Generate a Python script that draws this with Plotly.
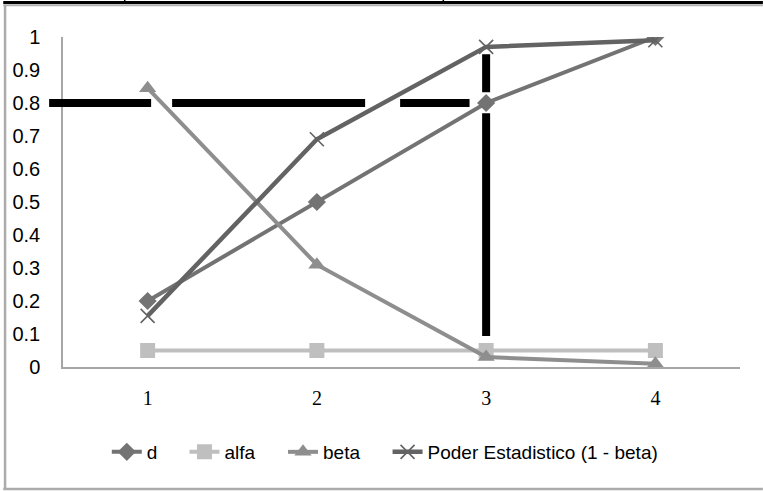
import plotly.graph_objects as go

# ---- data -------------------------------------------------------------
categories = [1, 2, 3, 4]
d_values = [0.20, 0.50, 0.80, 1.00]
alfa_values = [0.05, 0.05, 0.05, 0.05]
beta_values = [0.845, 0.31, 0.03, 0.01]
power_values = [0.155, 0.69, 0.97, 0.99]

y_tick_values = [0, 0.1, 0.2, 0.3, 0.4, 0.5, 0.6, 0.7, 0.8, 0.9, 1]
y_tick_labels = ["0", "0.1", "0.2", "0.3", "0.4", "0.5", "0.6", "0.7", "0.8", "0.9", "1"]

series_names = ["d", "alfa", "beta", "Poder Estadistico (1 - beta)"]

# target power level and the sample size category where it is reached
target_power = 0.8
target_category = 3

# ---- layout geometry ----------------------------------------------------
FIG_W, FIG_H = 763, 491
M_L, M_R, M_T, M_B = 60, 23, 37, 124
X_RANGE = [0.5, 4.5]
Y_RANGE = [0, 1]


def cat_to_paper(c):
    return (c - X_RANGE[0]) / (X_RANGE[1] - X_RANGE[0])


def val_to_paper(v):
    return (v - Y_RANGE[0]) / (Y_RANGE[1] - Y_RANGE[0])


def px_x(px):
    return (px - M_L) / (FIG_W - M_L - M_R)


def px_y(py):
    return (FIG_H - M_B - py) / (FIG_H - M_T - M_B)


SANS = "Liberation Sans, Arial, sans-serif"
SERIF = "Liberation Serif, Times New Roman, serif"

# one legend box per series so the entries keep their own spacing
legend_ids = ["legend", "legend2", "legend3", "legend4"]
legend_left_px = [104, 182, 281, 386]

fig = go.Figure()

fig.add_trace(go.Scatter(
    x=categories, y=d_values, name=series_names[0], mode="lines+markers",
    line=dict(color="#737373", width=4),
    marker=dict(symbol="diamond", size=14, color="#737373"),
    legend=legend_ids[0],
))
fig.add_trace(go.Scatter(
    x=categories, y=alfa_values, name=series_names[1], mode="lines+markers",
    line=dict(color="#bfbfbf", width=4),
    marker=dict(symbol="square", size=15, color="#bfbfbf"),
    legend=legend_ids[1],
))
fig.add_trace(go.Scatter(
    x=categories, y=beta_values, name=series_names[2], mode="lines+markers",
    line=dict(color="#8e8e8e", width=4),
    marker=dict(symbol="triangle-up", size=15, color="#8e8e8e"),
    legend=legend_ids[2],
))
fig.add_trace(go.Scatter(
    x=categories, y=power_values, name=series_names[3], mode="lines+markers",
    line=dict(color="#636363", width=4.5),
    marker=dict(symbol="x-thin", size=14, line=dict(color="#636363", width=1.6)),
    legend=legend_ids[3],
))

shapes = []

# dashed target line at power 0.8
shapes.append(dict(
    type="line", xref="paper", yref="paper",
    x0=cat_to_paper(0.418), x1=cat_to_paper(2.902),
    y0=val_to_paper(target_power), y1=val_to_paper(target_power),
    line=dict(color="black", width=8, dash="102px,21px,193px,35px,71px,300px"),
    layer="above",
))
# dashed vertical line at the category that reaches the target
shapes.append(dict(
    type="line", xref="paper", yref="paper",
    x0=cat_to_paper(target_category), x1=cat_to_paper(target_category),
    y0=val_to_paper(0.948), y1=val_to_paper(0.094),
    line=dict(color="black", width=8, dash="38px,21px,223px,300px"),
    layer="above",
))

# outer frame and the table border above it
shapes.append(dict(type="line", xref="paper", yref="paper",
                   x0=px_x(1.8), x1=px_x(1.8), y0=px_y(5), y1=px_y(489),
                   line=dict(color="#ababab", width=2.5)))
shapes.append(dict(type="line", xref="paper", yref="paper",
                   x0=px_x(0), x1=px_x(FIG_W), y0=px_y(5.3), y1=px_y(5.3),
                   line=dict(color="#b0b0b0", width=2)))
shapes.append(dict(type="line", xref="paper", yref="paper",
                   x0=px_x(0), x1=px_x(FIG_W), y0=px_y(489), y1=px_y(489),
                   line=dict(color="#ababab", width=2.5)))
shapes.append(dict(type="line", xref="paper", yref="paper",
                   x0=px_x(0), x1=px_x(FIG_W), y0=px_y(2.5), y1=px_y(2.5),
                   line=dict(color="black", width=3)))
for bx in (122, 442):
    shapes.append(dict(type="line", xref="paper", yref="paper",
                       x0=px_x(bx), x1=px_x(bx), y0=px_y(0), y1=px_y(4),
                       line=dict(color="black", width=1.5)))

legend_style = dict(
    orientation="h", xanchor="left",
    y=px_y(452), yanchor="middle",
    font=dict(family=SANS, size=19, color="black"),
    itemwidth=30, bgcolor="rgba(0,0,0,0)",
)

layout_legends = {}
for lid, lx in zip(legend_ids, legend_left_px):
    layout_legends[lid] = dict(legend_style, x=px_x(lx))

fig.update_layout(
    width=FIG_W, height=FIG_H,
    margin=dict(l=M_L, r=M_R, t=M_T, b=M_B, pad=0),
    paper_bgcolor="white", plot_bgcolor="white",
    showlegend=True,
    shapes=shapes,
    **layout_legends,
)

fig.update_xaxes(
    range=X_RANGE, tickmode="array", tickvals=categories,
    ticktext=[str(c) for c in categories],
    showgrid=False, zeroline=False, showline=True,
    linecolor="#a6a6a6", linewidth=1.5, ticks="",
    tickfont=dict(family=SERIF, size=20, color="black"),
    ticklabelstandoff=12,
)
fig.update_yaxes(
    range=Y_RANGE, tickmode="array", tickvals=y_tick_values, ticktext=y_tick_labels,
    showgrid=False, zeroline=False, showline=True,
    linecolor="#a6a6a6", linewidth=1.5, ticks="",
    tickfont=dict(family=SANS, size=20, color="black"),
    ticklabelstandoff=17,
)

fig.write_html("out.html")
